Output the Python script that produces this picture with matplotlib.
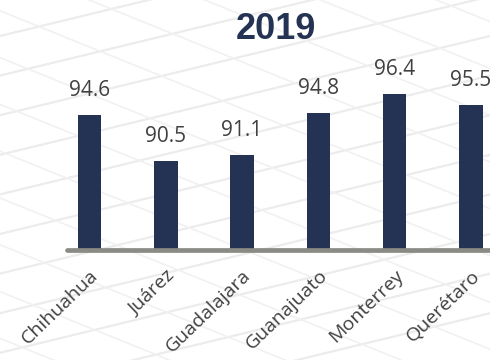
import matplotlib
matplotlib.use("Agg")
import matplotlib.pyplot as plt
from matplotlib.lines import Line2D
import numpy as np

# Data
cities = ["Chihuahua", "Juárez", "Guadalajara", "Guanajuato", "Monterrey", "Querétaro"]
values = [94.6, 90.5, 91.1, 94.8, 96.4, 95.5]
year_title = "2019"

BAR_COLOR = "#243253"
TEXT_COLOR = "#404040"
BASE_COLOR = "#8b8b85"

fig = plt.figure(figsize=(4.9, 3.6), dpi=100)
fig.patch.set_facecolor("white")

# faint decorative perspective lines in the background
bg_color = "#ececec"
for y0 in np.arange(-0.2, 1.3, 0.11):
    fig.add_artist(Line2D([0, 1], [y0, y0 + 0.33], transform=fig.transFigure,
                          color=bg_color, lw=1.6, zorder=0))
for y0 in np.arange(-0.2, 1.6, 0.13):
    fig.add_artist(Line2D([0, 1], [y0, y0 - 0.55], transform=fig.transFigure,
                          color="#f1f1f1", lw=1.2, zorder=0))

ax = fig.add_axes([67 / 490, 110 / 360, 1 - 67 / 490, 220 / 360])
ax.patch.set_alpha(0)

x = np.arange(len(cities))
ymin = 82.7
bars = ax.bar(x, values, width=0.31, color=BAR_COLOR, zorder=3)
ax.set_ylim(ymin, ymin + 220 / 11.36)
ax.set_xlim(-0.295, 5.25)

ax.axhline(ymin, color=BASE_COLOR, lw=3.4, solid_capstyle="round", zorder=4,
           clip_on=False)

for xi, v in zip(x, values):
    ax.annotate(f"{v:.1f}", xy=(xi, v), xytext=(0, 13.7), textcoords="offset points",
                ha="center", va="baseline", fontsize=15, color=TEXT_COLOR,
                family="Open Sans")

for s in ax.spines.values():
    s.set_visible(False)
ax.set_yticks([])
ax.set_xticks(x)
ax.set_xticklabels(cities, rotation=44, ha="right", rotation_mode="anchor",
                   fontsize=14, color=TEXT_COLOR, family="Open Sans")
ax.tick_params(axis="x", length=0, pad=12)

fig.text(276 / 490, (360 - 39) / 360, year_title, ha="center", va="baseline",
         fontsize=26, fontweight="bold", color=BAR_COLOR, family="Liberation Sans")

fig.savefig("out.png", dpi=100)
